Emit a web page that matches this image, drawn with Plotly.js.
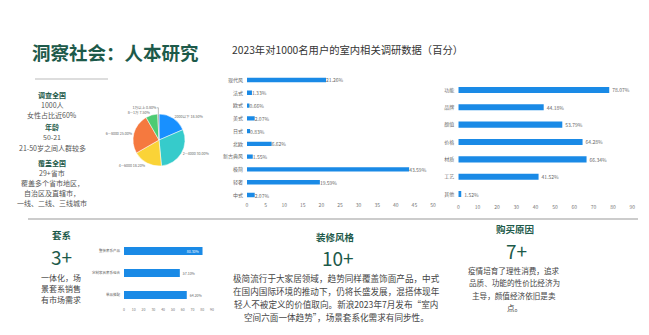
<!DOCTYPE html>
<html><head><meta charset="utf-8">
<script src="https://cdn.plot.ly/plotly-3.0.1.min.js"></script>
<style>html,body{margin:0;padding:0;background:#fff}#c{width:649px;height:335px}</style>
</head><body><div id="c"></div>
<script>
// ---- data ----
const pieLabels = ["2000以下", "2—4000", "4—6000", "6—8000", "8—1万", "1万以上"];
const pieValues = [18.5, 30.0, 18.2, 25.0, 7.5, 0.8];
const styleCats = ["现代风", "法式", "欧式", "美式", "日式", "北欧", "新古典风", "极简", "轻奢", "中式"];
const styleVals = [21.26, 1.33, 0.66, 2.07, 0.83, 6.62, 1.55, 43.59, 19.59, 2.07];
const reasonCats = ["功能", "品牌", "颜值", "价格", "材质", "工艺", "其他"];
const reasonVals = [78.07, 44.18, 53.79, 64.28, 66.34, 41.52, 1.52];
const setCats = ["整装套系产品", "定制家具套系组合", "单品搭配"];
const setVals = [80.3, 57.1, 64.2];
const styleTicks = [0, 5, 10, 15, 20, 25, 30, 35, 40, 45, 50];
const reasonTicks = [0, 10, 20, 30, 40, 50, 60, 70, 80, 90];

const W = 649, H = 335;
const FONT = "Noto Sans CJK SC, Noto Sans, sans-serif";
const GREEN = "#1d5a4a", BODY = "#444", BLUE = "#1a8ae6";
const px = x => x / W, py = y => 1 - y / H;

const anns = [];
function ann(text, x, y, size, color, anchor) {
  anns.push({text, x: px(x), y: py(y), xref: "paper", yref: "paper", showarrow: false,
    xanchor: anchor || "center", yanchor: "middle", font: {family: FONT, size, color}});
}
ann("<b>洞察社会：人本研究</b>", 30, 52, 18.5, GREEN, "left");
ann("2023年对1000名用户的室内相关调研数据（百分）", 347, 50, 10.3, "#333");

// left info block
const LB = "#555";
ann("<b>调查全国</b>", 52, 95, 7, GREEN);
ann("1000人", 52, 105, 7, LB);
ann("女性占比近60%", 52, 115, 7, LB);
ann("<b>年龄</b>", 52, 127, 7, GREEN);
ann("50-21", 52, 137, 7, LB);
ann("21-50岁之间人群较多", 52, 148, 7, LB);
ann("<b>覆盖全国</b>", 52, 163, 7, GREEN);
ann("29+省市", 52, 173, 7, LB);
ann("覆盖多个省市地区，", 52, 183, 7, LB);
ann("自治区及直辖市，", 52, 193, 7, LB);
ann("一线、二线、三线城市", 52, 203, 7, LB);

// bottom left
ann("<b>套系</b>", 61, 235, 9.5, GREEN);
ann("3+", 61, 256, 19, GREEN);
ann("一体化，场", 61, 277, 8, BODY);
ann("景套系销售", 61, 288, 8, BODY);
ann("有市场需求", 61, 299, 8, BODY);

// bottom middle
ann("<b>装修风格</b>", 335, 237, 9.5, GREEN);
ann("10+", 338, 257, 19, GREEN);
ann("极简流行于大家居领域，趋势同样覆盖饰面产品，中式", 336, 278, 8.6, BODY);
ann("在国内国际环境的推动下，仍将长盛发展，混搭体现年", 336, 291, 8.6, BODY);
ann("轻人不被定义的价值取向。新浪2023年7月发布“室内", 336, 304, 8.6, BODY);
ann("空间六面一体趋势”，场景套系化需求有同步性。", 336, 317, 8.6, BODY);

// bottom right
ann("<b>购买原因</b>", 515, 229, 9.5, GREEN);
ann("7+", 516, 250, 19, GREEN);
ann("疫情培育了理性消费，追求", 514, 270, 7.6, BODY);
ann("品质、功能的性价比经济为", 514, 282, 7.6, BODY);
ann("主导，颜值经济依旧是卖", 514, 295, 7.6, BODY);
ann("点。", 514, 307, 7.6, BODY);

const pct = v => v.toFixed(2) + "%";

const data = [
  {type: "pie", labels: pieLabels, values: pieValues, sort: false, direction: "clockwise",
   domain: {x: [px(133), px(185)], y: [py(166), py(114)]},
   marker: {colors: ["#1890ff", "#36cbcb", "#fad337", "#f5793f", "#4dcb73", "#8c8c8c"], line: {color: "#fff", width: 0.5}},
   text: pieLabels.map((l, i) => l + " " + pieValues[i].toFixed(2) + "%"),
   textinfo: "text", textposition: "outside", textfont: {size: 3.6, color: "#666", family: FONT},
   hoverinfo: "none", showlegend: false},
  {type: "bar", orientation: "h", x: styleVals, y: styleCats, xaxis: "x", yaxis: "y",
   marker: {color: BLUE}, width: 0.34, text: styleVals.map(pct), textposition: "outside", constraintext: "none",
   textfont: {size: 5, color: "#666", family: FONT}, cliponaxis: false, showlegend: false, hoverinfo: "none"},
  {type: "bar", orientation: "h", x: reasonVals, y: reasonCats, xaxis: "x2", yaxis: "y2",
   marker: {color: BLUE}, width: 0.35, text: reasonVals.map(pct), textposition: "outside", constraintext: "none",
   textfont: {size: 5, color: "#666", family: FONT}, cliponaxis: false, showlegend: false, hoverinfo: "none"},
  {type: "bar", orientation: "h", x: setVals, y: setCats, xaxis: "x3", yaxis: "y3",
   marker: {color: BLUE}, width: 0.36, text: setVals.map(pct), constraintext: "none",
   textposition: ["inside", "outside", "outside"], insidetextanchor: "end",
   insidetextfont: {size: 3.5, color: "#fff", family: FONT},
   outsidetextfont: {size: 3.5, color: "#666", family: FONT},
   cliponaxis: false, showlegend: false, hoverinfo: "none"}
];

const xax = (dom, rng, ticks) => ({domain: dom, range: rng, tickvals: ticks, ticktext: ticks.map(String),
  showgrid: false, zeroline: false, showline: false, ticks: "", fixedrange: true,
  tickfont: {size: 5, color: "#777", family: FONT}});
const yax = (dom, anchor, size) => ({domain: dom, anchor, autorange: "reversed", showgrid: false,
  zeroline: false, showline: false, ticks: "", ticklabelstandoff: 3,
  tickfont: {size, color: "#666", family: FONT}});

const layout = {
  width: W, height: H, margin: {l: 0, r: 0, t: 0, b: 0},
  paper_bgcolor: "#fff", plot_bgcolor: "rgba(0,0,0,0)", showlegend: false,
  font: {family: FONT},
  xaxis: Object.assign(xax([px(247), px(433)], [0, 50], styleTicks), {anchor: "y"}),
  yaxis: yax([py(201.4), py(73.6)], "x", 5),
  xaxis2: Object.assign(xax([px(458.3), px(632.3)], [0, 90], reasonTicks), {anchor: "y2"}),
  yaxis2: yax([py(202.7), py(81.3)], "x2", 5),
  xaxis3: Object.assign(xax([px(124), px(212)], [0, 90], reasonTicks), {anchor: "y3", tickfont: {size: 3.5, color: "#777", family: FONT}}),
  yaxis3: yax([py(306), py(240)], "x3", 3.5),
  annotations: anns,
  shapes: [
    {type: "line", xref: "paper", yref: "paper", x0: px(35), x1: px(108), y0: py(79), y1: py(79), line: {color: "#bbb", width: 1}},
    {type: "line", xref: "paper", yref: "paper", x0: px(28), x1: px(638), y0: py(219), y1: py(219), line: {color: "#999", width: 1}}
  ]
};
Plotly.newPlot("c", data, layout, {staticPlot: true, displayModeBar: false});
</script></body></html>
